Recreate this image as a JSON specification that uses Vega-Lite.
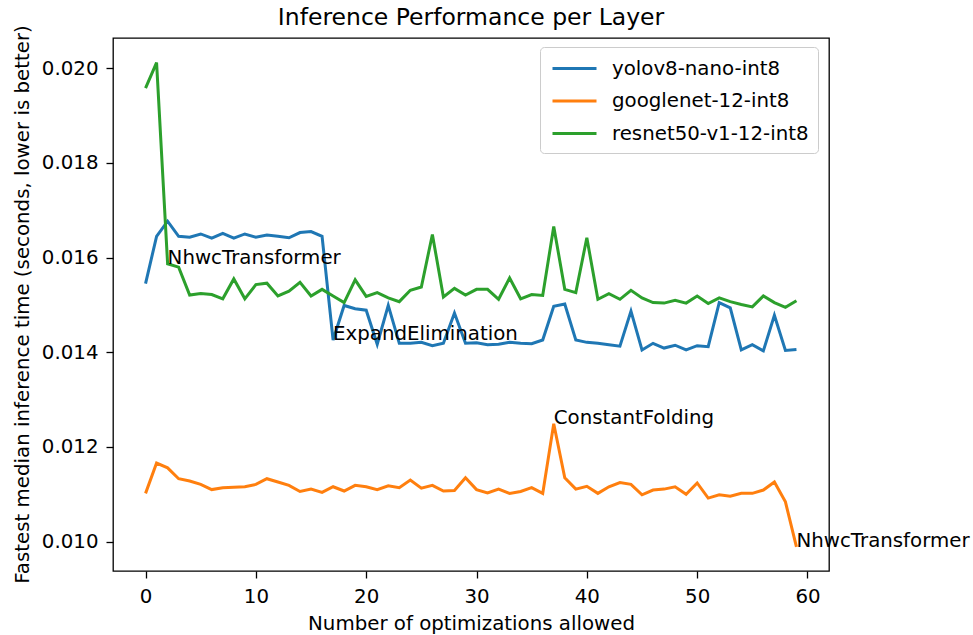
{
  "$schema": "https://vega.github.io/schema/vega-lite/v6.json",
  "autosize": {"type": "none"},
  "padding": {"left": 113, "top": 38, "right": 144, "bottom": 64},
  "width": 716,
  "height": 533,
  "background": "white",
  "title": {"text": "Inference Performance per Layer", "fontSize": 23.5, "font": "DejaVu Sans", "fontWeight": "normal", "color": "black", "offset": 8, "dy": 13, "anchor": "middle"},
  "config": {
    "view": {"stroke": "black", "strokeWidth": 1.3},
    "axis": {"grid": false, "domain": false, "tickColor": "black", "tickWidth": 1.3, "tickSize": 7, "labelFont": "DejaVu Sans", "labelFontSize": 19.8, "labelColor": "black", "labelPadding": 8, "titleFont": "DejaVu Sans", "titleFontSize": 19.8, "titleFontWeight": "normal", "titleColor": "black"},
    "text": {"font": "DejaVu Sans"}
  },
  "datasets": {
    "perf": [
      {"model":"yolov8-nano-int8","step":0,"time":0.01545},{"model":"yolov8-nano-int8","step":1,"time":0.01645},{"model":"yolov8-nano-int8","step":2,"time":0.01677},{"model":"yolov8-nano-int8","step":3,"time":0.01645},{"model":"yolov8-nano-int8","step":4,"time":0.01643},{"model":"yolov8-nano-int8","step":5,"time":0.01650},{"model":"yolov8-nano-int8","step":6,"time":0.01641},{"model":"yolov8-nano-int8","step":7,"time":0.01651},{"model":"yolov8-nano-int8","step":8,"time":0.01641},{"model":"yolov8-nano-int8","step":9,"time":0.01650},
      {"model":"yolov8-nano-int8","step":10,"time":0.01643},{"model":"yolov8-nano-int8","step":11,"time":0.01648},{"model":"yolov8-nano-int8","step":12,"time":0.01645},{"model":"yolov8-nano-int8","step":13,"time":0.01642},{"model":"yolov8-nano-int8","step":14,"time":0.01653},{"model":"yolov8-nano-int8","step":15,"time":0.01655},{"model":"yolov8-nano-int8","step":16,"time":0.01645},{"model":"yolov8-nano-int8","step":17,"time":0.01426},{"model":"yolov8-nano-int8","step":18,"time":0.01499},{"model":"yolov8-nano-int8","step":19,"time":0.01492},
      {"model":"yolov8-nano-int8","step":20,"time":0.01489},{"model":"yolov8-nano-int8","step":21,"time":0.01417},{"model":"yolov8-nano-int8","step":22,"time":0.01499},{"model":"yolov8-nano-int8","step":23,"time":0.01419},{"model":"yolov8-nano-int8","step":24,"time":0.01419},{"model":"yolov8-nano-int8","step":25,"time":0.01421},{"model":"yolov8-nano-int8","step":26,"time":0.01414},{"model":"yolov8-nano-int8","step":27,"time":0.01419},{"model":"yolov8-nano-int8","step":28,"time":0.01483},{"model":"yolov8-nano-int8","step":29,"time":0.01419},
      {"model":"yolov8-nano-int8","step":30,"time":0.01420},{"model":"yolov8-nano-int8","step":31,"time":0.01416},{"model":"yolov8-nano-int8","step":32,"time":0.01417},{"model":"yolov8-nano-int8","step":33,"time":0.01421},{"model":"yolov8-nano-int8","step":34,"time":0.01419},{"model":"yolov8-nano-int8","step":35,"time":0.01418},{"model":"yolov8-nano-int8","step":36,"time":0.01426},{"model":"yolov8-nano-int8","step":37,"time":0.01497},{"model":"yolov8-nano-int8","step":38,"time":0.01502},{"model":"yolov8-nano-int8","step":39,"time":0.01426},
      {"model":"yolov8-nano-int8","step":40,"time":0.01421},{"model":"yolov8-nano-int8","step":41,"time":0.01419},{"model":"yolov8-nano-int8","step":42,"time":0.01416},{"model":"yolov8-nano-int8","step":43,"time":0.01413},{"model":"yolov8-nano-int8","step":44,"time":0.01487},{"model":"yolov8-nano-int8","step":45,"time":0.01405},{"model":"yolov8-nano-int8","step":46,"time":0.01419},{"model":"yolov8-nano-int8","step":47,"time":0.01409},{"model":"yolov8-nano-int8","step":48,"time":0.01415},{"model":"yolov8-nano-int8","step":49,"time":0.01405},
      {"model":"yolov8-nano-int8","step":50,"time":0.01414},{"model":"yolov8-nano-int8","step":51,"time":0.01412},{"model":"yolov8-nano-int8","step":52,"time":0.01505},{"model":"yolov8-nano-int8","step":53,"time":0.01494},{"model":"yolov8-nano-int8","step":54,"time":0.01405},{"model":"yolov8-nano-int8","step":55,"time":0.01416},{"model":"yolov8-nano-int8","step":56,"time":0.01403},{"model":"yolov8-nano-int8","step":57,"time":0.01478},{"model":"yolov8-nano-int8","step":58,"time":0.01404},{"model":"yolov8-nano-int8","step":59,"time":0.01406},

      {"model":"googlenet-12-int8","step":0,"time":0.01102},{"model":"googlenet-12-int8","step":1,"time":0.01166},{"model":"googlenet-12-int8","step":2,"time":0.01156},{"model":"googlenet-12-int8","step":3,"time":0.01133},{"model":"googlenet-12-int8","step":4,"time":0.01128},{"model":"googlenet-12-int8","step":5,"time":0.01121},{"model":"googlenet-12-int8","step":6,"time":0.01110},{"model":"googlenet-12-int8","step":7,"time":0.01114},{"model":"googlenet-12-int8","step":8,"time":0.01115},{"model":"googlenet-12-int8","step":9,"time":0.01116},
      {"model":"googlenet-12-int8","step":10,"time":0.01121},{"model":"googlenet-12-int8","step":11,"time":0.01133},{"model":"googlenet-12-int8","step":12,"time":0.01126},{"model":"googlenet-12-int8","step":13,"time":0.01119},{"model":"googlenet-12-int8","step":14,"time":0.01106},{"model":"googlenet-12-int8","step":15,"time":0.01111},{"model":"googlenet-12-int8","step":16,"time":0.01104},{"model":"googlenet-12-int8","step":17,"time":0.01116},{"model":"googlenet-12-int8","step":18,"time":0.01107},{"model":"googlenet-12-int8","step":19,"time":0.01119},
      {"model":"googlenet-12-int8","step":20,"time":0.01116},{"model":"googlenet-12-int8","step":21,"time":0.01110},{"model":"googlenet-12-int8","step":22,"time":0.01118},{"model":"googlenet-12-int8","step":23,"time":0.01114},{"model":"googlenet-12-int8","step":24,"time":0.01130},{"model":"googlenet-12-int8","step":25,"time":0.01113},{"model":"googlenet-12-int8","step":26,"time":0.01119},{"model":"googlenet-12-int8","step":27,"time":0.01107},{"model":"googlenet-12-int8","step":28,"time":0.01108},{"model":"googlenet-12-int8","step":29,"time":0.01135},
      {"model":"googlenet-12-int8","step":30,"time":0.01110},{"model":"googlenet-12-int8","step":31,"time":0.01103},{"model":"googlenet-12-int8","step":32,"time":0.01111},{"model":"googlenet-12-int8","step":33,"time":0.01102},{"model":"googlenet-12-int8","step":34,"time":0.01106},{"model":"googlenet-12-int8","step":35,"time":0.01114},{"model":"googlenet-12-int8","step":36,"time":0.01102},{"model":"googlenet-12-int8","step":37,"time":0.01249},{"model":"googlenet-12-int8","step":38,"time":0.01135},{"model":"googlenet-12-int8","step":39,"time":0.01111},
      {"model":"googlenet-12-int8","step":40,"time":0.01117},{"model":"googlenet-12-int8","step":41,"time":0.01102},{"model":"googlenet-12-int8","step":42,"time":0.01116},{"model":"googlenet-12-int8","step":43,"time":0.01125},{"model":"googlenet-12-int8","step":44,"time":0.01121},{"model":"googlenet-12-int8","step":45,"time":0.01099},{"model":"googlenet-12-int8","step":46,"time":0.01109},{"model":"googlenet-12-int8","step":47,"time":0.01111},{"model":"googlenet-12-int8","step":48,"time":0.01116},{"model":"googlenet-12-int8","step":49,"time":0.01100},
      {"model":"googlenet-12-int8","step":50,"time":0.01124},{"model":"googlenet-12-int8","step":51,"time":0.01092},{"model":"googlenet-12-int8","step":52,"time":0.01099},{"model":"googlenet-12-int8","step":53,"time":0.01096},{"model":"googlenet-12-int8","step":54,"time":0.01102},{"model":"googlenet-12-int8","step":55,"time":0.01102},{"model":"googlenet-12-int8","step":56,"time":0.01109},{"model":"googlenet-12-int8","step":57,"time":0.01126},{"model":"googlenet-12-int8","step":58,"time":0.01084},{"model":"googlenet-12-int8","step":59,"time":0.00989},

      {"model":"resnet50-v1-12-int8","step":0,"time":0.01958},{"model":"resnet50-v1-12-int8","step":1,"time":0.02012},{"model":"resnet50-v1-12-int8","step":2,"time":0.01587},{"model":"resnet50-v1-12-int8","step":3,"time":0.01580},{"model":"resnet50-v1-12-int8","step":4,"time":0.01521},{"model":"resnet50-v1-12-int8","step":5,"time":0.01524},{"model":"resnet50-v1-12-int8","step":6,"time":0.01522},{"model":"resnet50-v1-12-int8","step":7,"time":0.01513},{"model":"resnet50-v1-12-int8","step":8,"time":0.01555},{"model":"resnet50-v1-12-int8","step":9,"time":0.01513},
      {"model":"resnet50-v1-12-int8","step":10,"time":0.01543},{"model":"resnet50-v1-12-int8","step":11,"time":0.01546},{"model":"resnet50-v1-12-int8","step":12,"time":0.01519},{"model":"resnet50-v1-12-int8","step":13,"time":0.01529},{"model":"resnet50-v1-12-int8","step":14,"time":0.01548},{"model":"resnet50-v1-12-int8","step":15,"time":0.01519},{"model":"resnet50-v1-12-int8","step":16,"time":0.01533},{"model":"resnet50-v1-12-int8","step":17,"time":0.01519},{"model":"resnet50-v1-12-int8","step":18,"time":0.01505},{"model":"resnet50-v1-12-int8","step":19,"time":0.01553},
      {"model":"resnet50-v1-12-int8","step":20,"time":0.01518},{"model":"resnet50-v1-12-int8","step":21,"time":0.01526},{"model":"resnet50-v1-12-int8","step":22,"time":0.01515},{"model":"resnet50-v1-12-int8","step":23,"time":0.01507},{"model":"resnet50-v1-12-int8","step":24,"time":0.01531},{"model":"resnet50-v1-12-int8","step":25,"time":0.01538},{"model":"resnet50-v1-12-int8","step":26,"time":0.01649},{"model":"resnet50-v1-12-int8","step":27,"time":0.01517},{"model":"resnet50-v1-12-int8","step":28,"time":0.01535},{"model":"resnet50-v1-12-int8","step":29,"time":0.01521},
      {"model":"resnet50-v1-12-int8","step":30,"time":0.01533},{"model":"resnet50-v1-12-int8","step":31,"time":0.01533},{"model":"resnet50-v1-12-int8","step":32,"time":0.01512},{"model":"resnet50-v1-12-int8","step":33,"time":0.01557},{"model":"resnet50-v1-12-int8","step":34,"time":0.01513},{"model":"resnet50-v1-12-int8","step":35,"time":0.01522},{"model":"resnet50-v1-12-int8","step":36,"time":0.01520},{"model":"resnet50-v1-12-int8","step":37,"time":0.01666},{"model":"resnet50-v1-12-int8","step":38,"time":0.01533},{"model":"resnet50-v1-12-int8","step":39,"time":0.01526},
      {"model":"resnet50-v1-12-int8","step":40,"time":0.01642},{"model":"resnet50-v1-12-int8","step":41,"time":0.01512},{"model":"resnet50-v1-12-int8","step":42,"time":0.01524},{"model":"resnet50-v1-12-int8","step":43,"time":0.01512},{"model":"resnet50-v1-12-int8","step":44,"time":0.01531},{"model":"resnet50-v1-12-int8","step":45,"time":0.01515},{"model":"resnet50-v1-12-int8","step":46,"time":0.01505},{"model":"resnet50-v1-12-int8","step":47,"time":0.01504},{"model":"resnet50-v1-12-int8","step":48,"time":0.01510},{"model":"resnet50-v1-12-int8","step":49,"time":0.01504},
      {"model":"resnet50-v1-12-int8","step":50,"time":0.01519},{"model":"resnet50-v1-12-int8","step":51,"time":0.01503},{"model":"resnet50-v1-12-int8","step":52,"time":0.01515},{"model":"resnet50-v1-12-int8","step":53,"time":0.01507},{"model":"resnet50-v1-12-int8","step":54,"time":0.01501},{"model":"resnet50-v1-12-int8","step":55,"time":0.01496},{"model":"resnet50-v1-12-int8","step":56,"time":0.01519},{"model":"resnet50-v1-12-int8","step":57,"time":0.01505},{"model":"resnet50-v1-12-int8","step":58,"time":0.01495},{"model":"resnet50-v1-12-int8","step":59,"time":0.01509}
    ],
    "notes": [
      {"step": 2, "time": 0.01587, "label": "NhwcTransformer"},
      {"step": 17, "time": 0.01426, "label": "ExpandElimination"},
      {"step": 37, "time": 0.01249, "label": "ConstantFolding"},
      {"step": 59, "time": 0.00989, "label": "NhwcTransformer"}
    ]
  },
  "layer": [
    {
      "data": {"name": "perf"},
      "mark": {"type": "line", "strokeWidth": 3, "clip": true},
      "encoding": {
        "x": {"field": "step", "type": "quantitative", "scale": {"domain": [-2.95, 61.95], "nice": false, "zero": false}, "axis": {"values": [0, 10, 20, 30, 40, 50, 60], "title": "Number of optimizations allowed", "labelBaseline": "top", "titleBaseline": "middle", "titleY": 52, "titlePadding": 0}},
        "y": {"field": "time", "type": "quantitative", "scale": {"domain": [0.00938, 0.02064], "nice": false, "zero": false}, "axis": {"values": [0.010, 0.012, 0.014, 0.016, 0.018, 0.020], "format": ".3f", "title": "Fastest median inference time (seconds, lower is better)", "titleAngle": -90, "titleAlign": "center", "titleBaseline": "middle", "titleX": -91, "titleY": 266}},
        "color": {"field": "model", "type": "nominal", "sort": null, "scale": {"domain": ["yolov8-nano-int8", "googlenet-12-int8", "resnet50-v1-12-int8"], "range": ["#1f77b4", "#ff7f0e", "#2ca02c"]},
          "legend": {"title": null, "orient": "none", "legendX": 427, "legendY": 9, "symbolType": "M-2,0H2", "symbolSize": 484, "symbolStrokeWidth": 3, "symbolFillColor": "transparent", "symbolOffset": 13, "labelFontSize": 19.8, "labelFont": "DejaVu Sans", "labelColor": "black", "labelOffset": 25, "padding": 9, "strokeColor": "#cccccc", "fillColor": "rgba(255,255,255,0.8)", "cornerRadius": 4, "rowPadding": 9.5, "labelLimit": 400}}
      }
    },
    {
      "data": {"name": "notes"},
      "mark": {"type": "text", "align": "left", "baseline": "alphabetic", "fontSize": 19.8, "font": "DejaVu Sans", "color": "black"},
      "encoding": {
        "x": {"field": "step", "type": "quantitative"},
        "y": {"field": "time", "type": "quantitative"},
        "text": {"field": "label", "type": "nominal"}
      }
    }
  ]
}
